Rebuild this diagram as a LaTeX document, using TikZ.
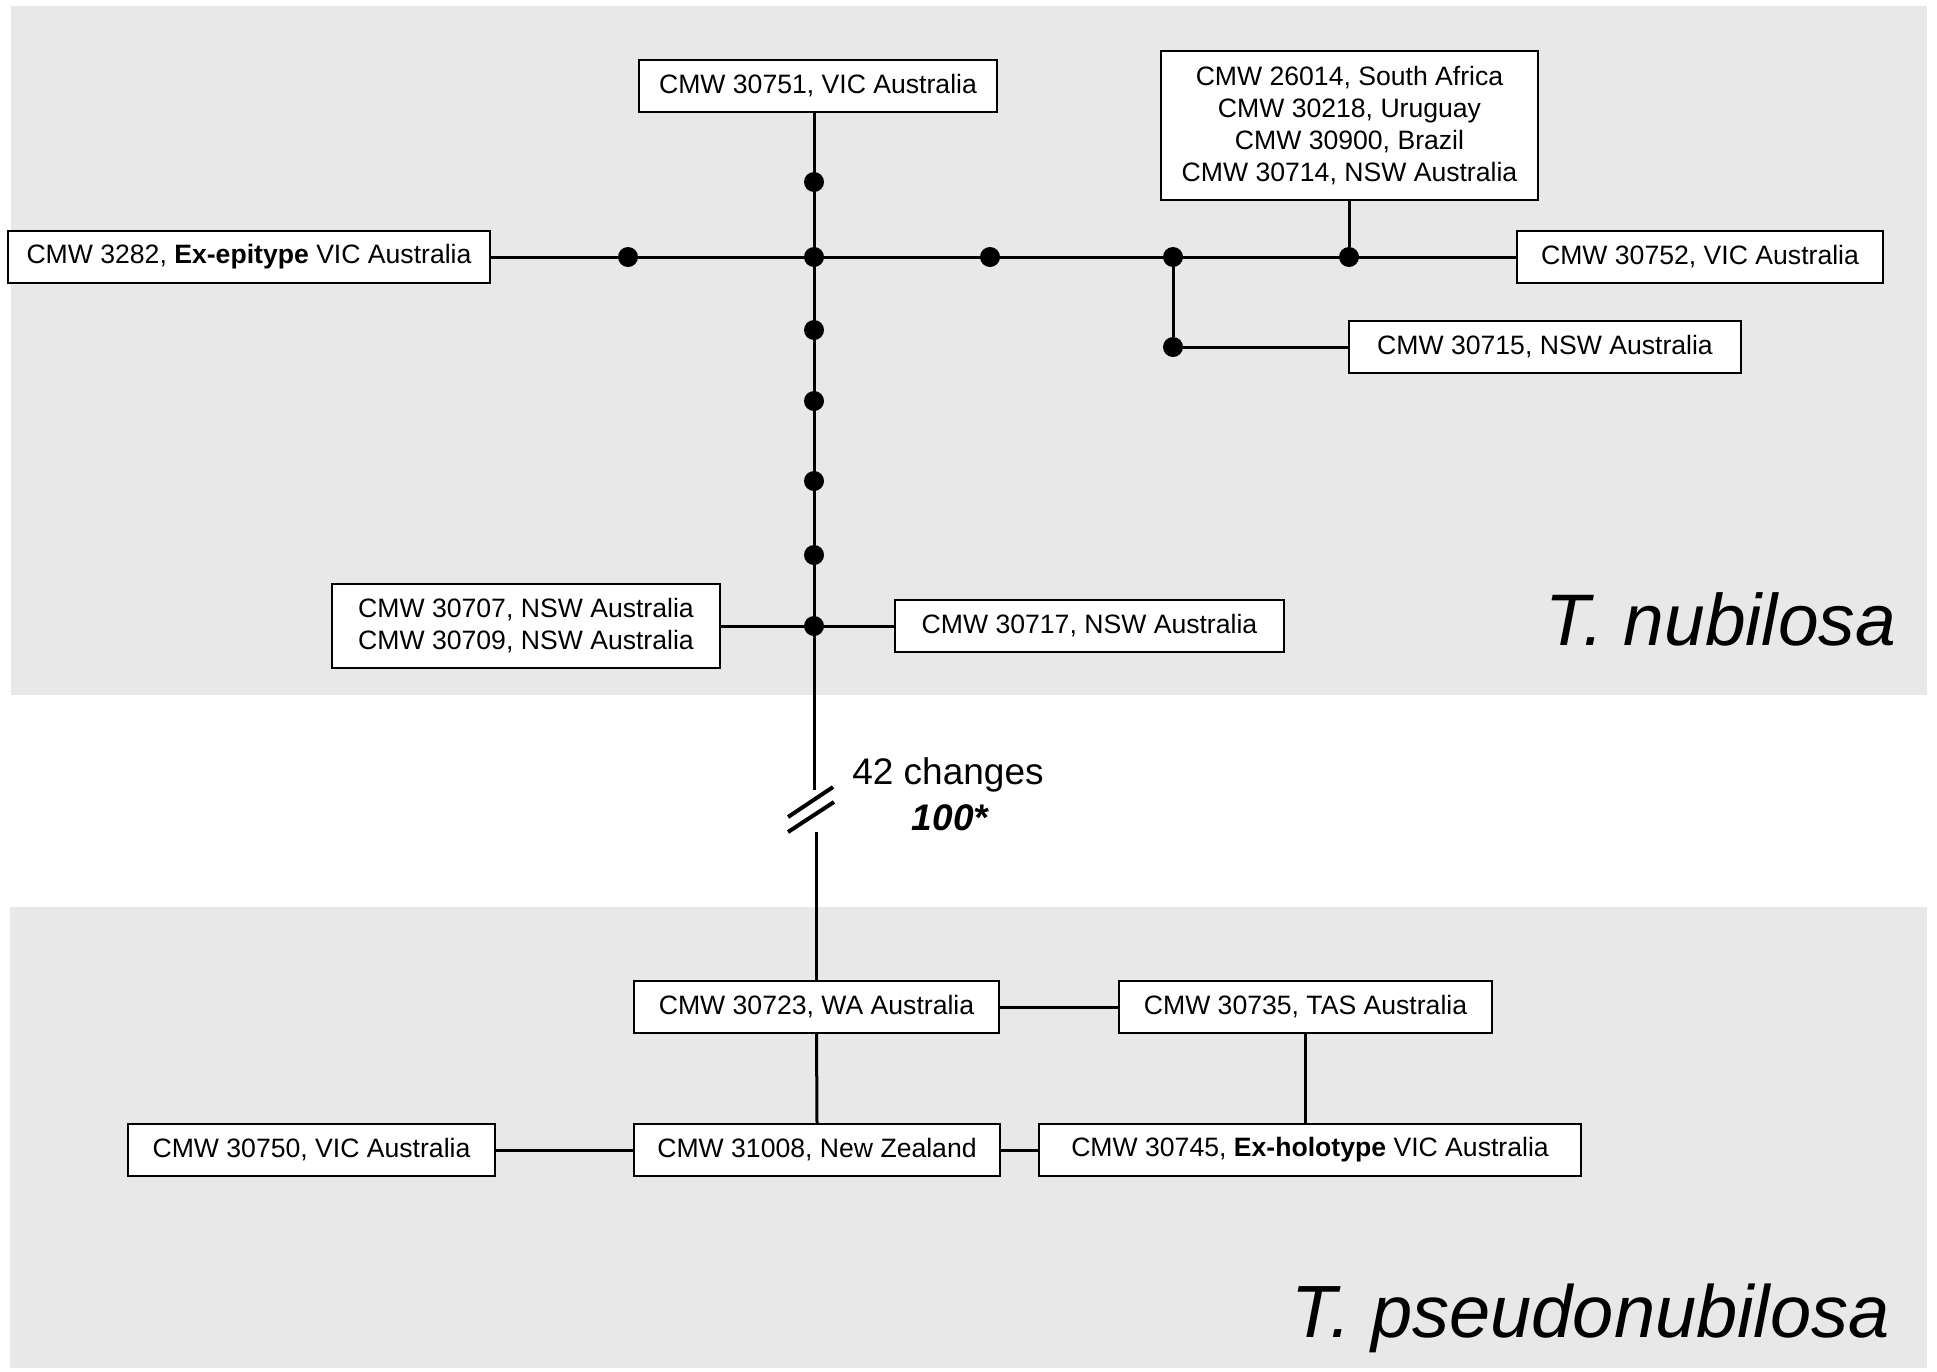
\documentclass[tikz,border=0pt]{standalone}
\usepackage{fontspec}
\setmainfont{Liberation Sans}
\usepackage{xcolor}
\usetikzlibrary{positioning}
\definecolor{panelgray}{RGB}{232,232,232}

\begin{document}
\begin{tikzpicture}[x=1pt,y=-1pt]
\tikzstyle{every node}+=[inner sep=0pt]
\tikzstyle{isolate}=[draw=black,line width=1.6pt,fill=white,minimum height=52pt,align=center,font=\fontsize{26.6}{32}\selectfont]
\tikzstyle{snp}=[circle,fill=black,minimum size=20pt]
\tikzstyle{branch}=[black,line width=3pt]
\useasboundingbox (0,0) rectangle (1937,1371);
\fill [panelgray] (11,6) rectangle (1927,695);
\fill [panelgray] (10,907) rectangle (1927,1368);
\node [isolate,minimum width=358pt] (n51) at (818,86) {CMW 30751, VIC Australia};
\node [isolate,minimum width=377pt,minimum height=149pt] (nmulti) at (1349.5,125.5) {CMW 26014, South Africa\\CMW 30218, Uruguay\\CMW 30900, Brazil\\CMW 30714, NSW Australia};
\node [isolate,minimum width=482pt] (n3282) at (249,257) {CMW 3282, \textbf{Ex-epitype} VIC Australia};
\node [isolate,minimum width=366pt] (n52) at (1700,257) {CMW 30752, VIC Australia};
\node [isolate,minimum width=392pt] (n15) at (1545,347) {CMW 30715, NSW Australia};
\node [isolate,minimum width=388pt,minimum height=84pt] (n07) at (526,626) {CMW 30707, NSW Australia\\CMW 30709, NSW Australia};
\node [isolate,minimum width=389pt] (n17) at (1089.5,626) {CMW 30717, NSW Australia};
\node [isolate,minimum width=365pt] (n23) at (816.5,1007) {CMW 30723, WA Australia};
\node [isolate,minimum width=373pt] (n35) at (1305.5,1007) {CMW 30735, TAS Australia};
\node [isolate,minimum width=367pt] (n50) at (311.5,1150) {CMW 30750, VIC Australia};
\node [isolate,minimum width=366pt] (n08) at (817,1150) {CMW 31008, New Zealand};
\node [isolate,minimum width=542pt] (n45) at (1310,1150) {CMW 30745, \textbf{Ex-holotype} VIC Australia};
\coordinate (brk) at (811,810);
\coordinate (brktop) at (814,790);
\coordinate (brkbot) at (816,832);
\node [snp] (j) at (814,257) {};
\node [snp] (h1) at (628,257) {};
\node [snp] (h2) at (990,257) {};
\node [snp] (h3) at (1173,257) {};
\node [snp] (h4) at (1349,257) {};
\node [snp] (s15) at (1173,347) {};
\node [snp] (v1) at (814,182) {};
\node [snp] (v2) at (814,330) {};
\node [snp] (v3) at (814,401) {};
\node [snp] (v4) at (814,481) {};
\node [snp] (v5) at (814,555) {};
\node [snp] (v6) at (814,626) {};
\draw [branch] (n3282.east) -- (n52.west);
\draw [branch] (n51.south -| j) -- (brktop);
\draw [branch] (nmulti.south -| h4) -- (h4);
\draw [branch] (h3) -- (s15) -- (n15.west);
\draw [branch] (n07.east) -- (n17.west);
\draw [line width=4pt] ([shift={(-23,7)}]brk) -- ([shift={(22,-23)}]brk);
\draw [line width=4pt] ([shift={(-23,22)}]brk) -- ([shift={(23,-8)}]brk);
\draw [branch] (brkbot) -- (brkbot |- n23.north);
\draw [branch] (n23.east) -- (n35.west);
\draw [branch] (n23.south) -- (n08.north);
\draw [branch] (n35.south) -- (n35.south |- n45.north);
\draw [branch] (n50.east) -- (n08.west);
\draw [branch] (n08.east) -- (n45.west);
\node [font=\fontsize{37}{44}\selectfont] (chg) at (948,775) {42 changes};
\node [font=\fontsize{37}{44}\selectfont\bfseries\itshape] (boot) at (950,818) {100*};
\node [anchor=base east,font=\fontsize{73}{80}\selectfont\itshape] (nub) at (1896,645) {T. nubilosa};
\node [anchor=base east,font=\fontsize{74}{80}\selectfont\itshape] (pnub) at (1890,1337) {T. pseudonubilosa};
\end{tikzpicture}
\end{document}
